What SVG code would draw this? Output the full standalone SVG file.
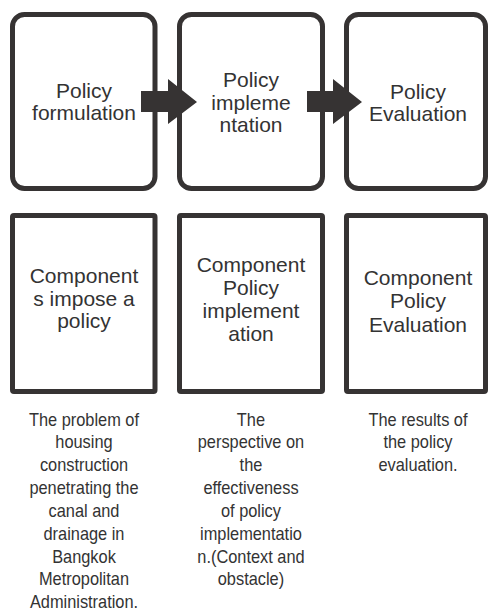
<svg xmlns="http://www.w3.org/2000/svg" width="489" height="612" viewBox="0 0 489 612">
  <style>
    .stage { fill: #ffffff; stroke: #363333; stroke-width: 5; }
    .lbl { font-family: "Liberation Sans", Arial, sans-serif; font-size: 21px; fill: #333333; text-anchor: middle; }
    .note { font-family: "Liberation Sans", Arial, sans-serif; font-size: 18px; fill: #333333; text-anchor: middle; }
    .arrow { fill: #363333; }
  </style>
  <rect width="489" height="612" fill="#ffffff"/>

  <!-- Stage boxes (rounded) -->
  <g id="policy-formulation">
    <rect class="stage" x="12.5" y="14.5" width="142.5" height="174" rx="12"/>
    <text class="lbl" x="84" y="98">Policy</text>
    <text class="lbl" x="84" y="120">formulation</text>
  </g>
  <g id="policy-implementation">
    <rect class="stage" x="179.5" y="14.5" width="143" height="174" rx="12"/>
    <text class="lbl" x="251" y="87">Policy</text>
    <text class="lbl" x="251" y="109.5">impleme</text>
    <text class="lbl" x="251" y="132">ntation</text>
  </g>
  <g id="policy-evaluation">
    <rect class="stage" x="346.5" y="14.5" width="139" height="174" rx="12"/>
    <text class="lbl" x="418" y="98.5">Policy</text>
    <text class="lbl" x="418" y="120.5">Evaluation</text>
  </g>

  <!-- Component boxes (square) -->
  <g id="component-impose">
    <rect class="stage" x="12.5" y="215.5" width="142.5" height="176" rx="1.5"/>
    <text class="lbl" x="84" y="283">Component</text>
    <text class="lbl" x="84" y="305.5">s impose a</text>
    <text class="lbl" x="84" y="328">policy</text>
  </g>
  <g id="component-implementation">
    <rect class="stage" x="179.5" y="215.5" width="143" height="176" rx="1.5"/>
    <text class="lbl" x="251" y="272">Component</text>
    <text class="lbl" x="251" y="295">Policy</text>
    <text class="lbl" x="251" y="318">implement</text>
    <text class="lbl" x="251" y="341">ation</text>
  </g>
  <g id="component-evaluation">
    <rect class="stage" x="346.5" y="215.5" width="139" height="176" rx="1.5"/>
    <text class="lbl" x="418" y="285">Component</text>
    <text class="lbl" x="418" y="308">Policy</text>
    <text class="lbl" x="418" y="331.5">Evaluation</text>
  </g>

  <!-- Descriptions, set slightly condensed -->
  <g transform="scale(0.91 1)">
    <g id="desc-formulation">
      <text class="note" x="92.3" y="426">The problem of</text>
      <text class="note" x="92.3" y="448.5">housing</text>
      <text class="note" x="92.3" y="471.5">construction</text>
      <text class="note" x="92.3" y="494">penetrating the</text>
      <text class="note" x="92.3" y="517">canal and</text>
      <text class="note" x="92.3" y="540">drainage in</text>
      <text class="note" x="92.3" y="563">Bangkok</text>
      <text class="note" x="92.3" y="585.5">Metropolitan</text>
      <text class="note" x="92.3" y="608">Administration.</text>
    </g>
    <g id="desc-implementation">
      <text class="note" x="275.8" y="426">The</text>
      <text class="note" x="275.8" y="448.5">perspective on</text>
      <text class="note" x="275.8" y="471.5">the</text>
      <text class="note" x="275.8" y="494">effectiveness</text>
      <text class="note" x="275.8" y="517">of policy</text>
      <text class="note" x="275.8" y="540">implementatio</text>
      <text class="note" x="275.8" y="563">n.(Context and</text>
      <text class="note" x="275.8" y="585.5">obstacle)</text>
    </g>
    <g id="desc-evaluation">
      <text class="note" x="459.3" y="426">The results of</text>
      <text class="note" x="459.3" y="448.5">the policy</text>
      <text class="note" x="459.3" y="471.5">evaluation.</text>
    </g>
  </g>

  <!-- Block arrows between stages -->
  <g id="connectors">
    <polygon class="arrow" points="141,91 168,91 168,79 197,102 168,124 168,112 141,112"/>
    <polygon class="arrow" points="307,91 333,91 333,79 362,102 333,124 333,112 307,112"/>
  </g>
</svg>
